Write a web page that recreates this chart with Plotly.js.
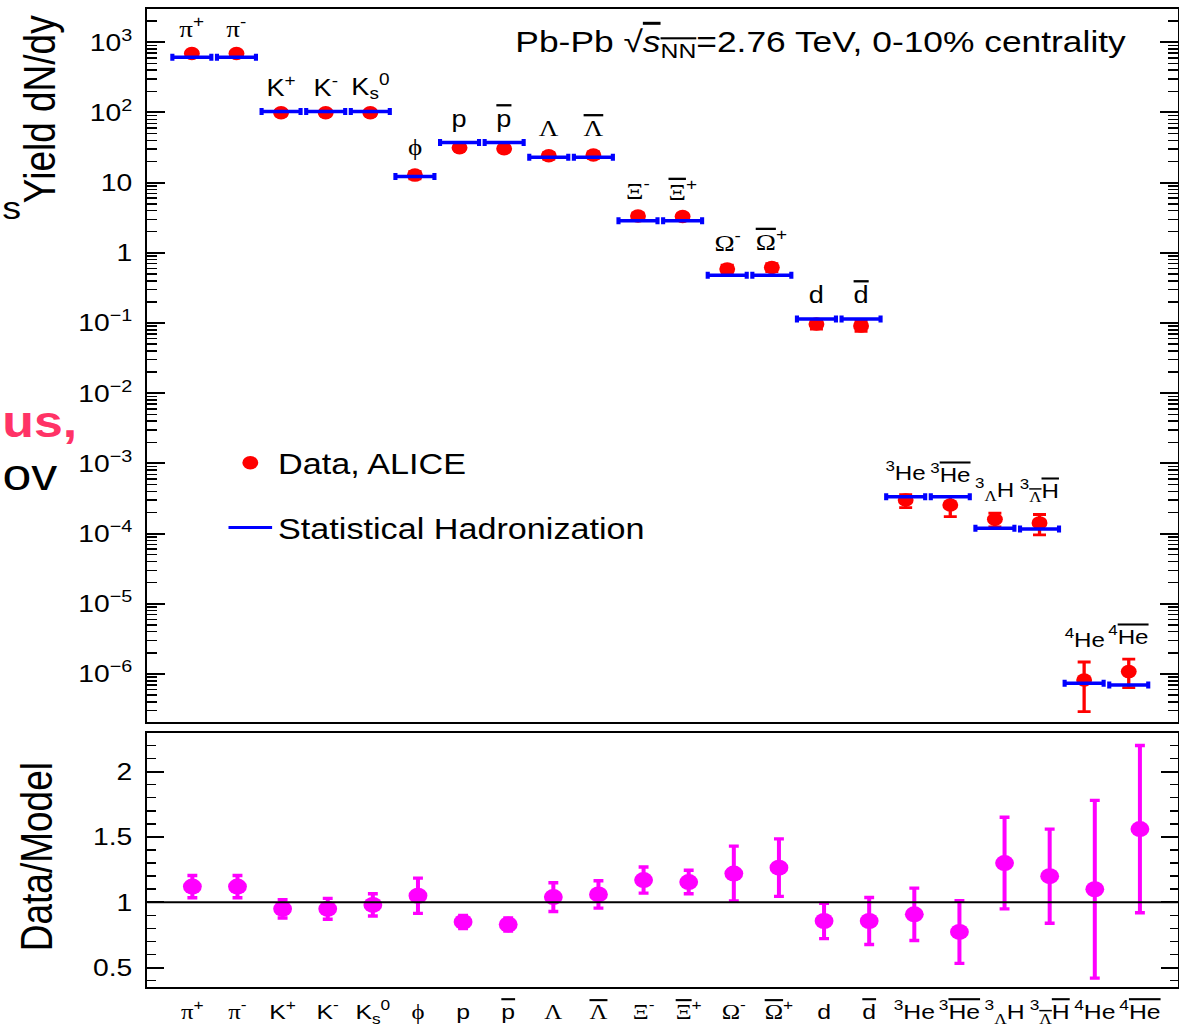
<!DOCTYPE html>
<html>
<head>
<meta charset="utf-8">
<script src="https://cdn.plot.ly/plotly-3.0.1.min.js"></script>
<style>
  html, body { margin: 0; padding: 0; background: #ffffff; overflow: hidden; }
  #plot { width: 1000px; height: 1029px; transform: scaleX(1.179); transform-origin: 0 0; }
</style>
</head>
<body>
<div id="plot"></div>
<script>
// helpers for particle notation
const G = s => '<span style="font-family:Liberation Serif, DejaVu Serif">' + s + '</span>';
const O = s => '<span style="text-decoration:overline">' + s + '</span>';

// particle species (tick labels, top-panel labels)
const categories = [
  G('π') + '<sup>+</sup>', G('π') + '<sup>-</sup>',
  'K<sup>+</sup>', 'K<sup>-</sup>', 'K<sub>s</sub><sup>0</sup>',
  G('ϕ'), 'p', O('p'), G('Λ'), O(G('Λ')),
  G('Ξ') + '<sup>-</sup>', O(G('Ξ')) + '<sup>+</sup>',
  G('Ω') + '<sup>-</sup>', O(G('Ω')) + '<sup>+</sup>',
  'd', O('d'),
  '<sup>3</sup>He', '<sup>3</sup>' + O('He'),
  '<sup>3</sup><sub>' + G('Λ') + '</sub>H', '<sup>3</sup><sub>' + O(G('Λ')) + '</sub>' + O('H'),
  '<sup>4</sup>He', '<sup>4</sup>' + O('He')
];

// Statistical hadronization model yields
const modelYield = [611, 611, 103, 103, 103, 12.2, 37.2, 37.2, 23.0, 23.0, 2.87, 2.87,
  0.478, 0.478, 0.114, 0.114, 3.36e-4, 3.36e-4, 1.19e-4, 1.16e-4, 7.4e-7, 6.98e-7];

// ALICE measured yields
const dataYield = [690, 690, 99, 99, 99, 12.8, 31.5, 30.5, 24.2, 24.7, 3.35, 3.3,
  0.59, 0.62, 0.097, 0.091, 3.0e-4, 2.56e-4, 1.6e-4, 1.42e-4, 8.2e-7, 1.08e-6];
const dataErrPlus = [50, 50, 8, 8, 8, 1.5, 2.5, 2.5, 2.5, 2.5, 0.3, 0.3,
  0.08, 0.08, 0.015, 0.015, 0.6e-4, 0.8e-4, 0.35e-4, 0.45e-4, 6.6e-7, 5.5e-7];
const dataErrMinus = [50, 50, 8, 8, 8, 1.5, 2.5, 2.5, 2.5, 2.5, 0.3, 0.3,
  0.08, 0.08, 0.015, 0.015, 0.65e-4, 0.82e-4, 0.35e-4, 0.46e-4, 5.3e-7, 4.4e-7];

// Data / Model ratio
const ratio = [1.12, 1.12, 0.95, 0.95, 0.98, 1.05, 0.85, 0.83, 1.04, 1.06, 1.17, 1.155,
  1.22, 1.265, 0.857, 0.857, 0.908, 0.773, 1.30, 1.20, 1.10, 1.56];
const ratioErr = [0.085, 0.085, 0.07, 0.08, 0.085, 0.135, 0.05, 0.05, 0.11, 0.105, 0.10, 0.09,
  0.21, 0.22, 0.135, 0.18, 0.20, 0.24, 0.35, 0.36, 0.68, 0.64];

// axis ticks
const yTickVals = [1e3, 1e2, 10, 1, 1e-1, 1e-2, 1e-3, 1e-4, 1e-5, 1e-6];
const yTickText = ['10<sup>3</sup>', '10<sup>2</sup>', '10', '1', '10<sup>−1</sup>', '10<sup>−2</sup>',
  '10<sup>−3</sup>', '10<sup>−4</sup>', '10<sup>−5</sup>', '10<sup>−6</sup>'];
const rTickVals = [0.5, 1, 1.5, 2];
const rTickText = ['0.5', '1', '1.5', '2'];

const xIdx = categories.map((_, i) => i);
const FONT = 'Liberation Sans, Arial, sans-serif';

const traces = [
  {
    x: xIdx, y: dataYield, xaxis: 'x', yaxis: 'y', type: 'scatter', mode: 'markers',
    name: 'Data, ALICE', legendgroup: 'a',
    marker: { color: '#ff0000', size: 13.5 },
    error_y: { type: 'data', symmetric: false, array: dataErrPlus, arrayminus: dataErrMinus,
      color: '#ff0000', thickness: 2.8, width: 5.5 }
  },
  {
    x: xIdx, y: modelYield, xaxis: 'x', yaxis: 'y', type: 'scatter', mode: 'markers',
    name: 'model', showlegend: false,
    marker: { color: '#0000ff', size: 1 },
    error_x: { type: 'constant', value: 0.437, color: '#0000ff', thickness: 3.5, width: 3.5 }
  },
  {
    x: [null], y: [null], xaxis: 'x', yaxis: 'y', type: 'scatter', mode: 'lines',
    name: 'Statistical Hadronization', legendgroup: 'b',
    line: { color: '#0000ff', width: 3 }
  },
  {
    x: xIdx, y: ratio, xaxis: 'x2', yaxis: 'y2', type: 'scatter', mode: 'markers',
    showlegend: false, name: 'ratio',
    marker: { color: '#ff00ff', size: 16 },
    error_y: { type: 'data', array: ratioErr, color: '#ff00ff', thickness: 3.4, width: 4.2 }
  }
];

const labelAnns = categories.map((c, i) => ({
  text: c, x: i, xref: 'x', yref: 'y',
  y: Math.log10(Math.max(modelYield[i], dataYield[i] + dataErrPlus[i])),
  yshift: 24, yanchor: 'middle', xanchor: 'center', showarrow: false,
  font: { family: FONT, size: i >= 16 ? 20.5 : 23, color: '#000000' }
}));

const otherAnns = [
  { text: 'Pb-Pb √' + O('<i>s</i><sub>NN</sub>') + '=2.76 TeV, 0-10% centrality',
    xref: 'paper', yref: 'paper', x: 0.3548, y: 0.9652, xanchor: 'left', yanchor: 'middle',
    showarrow: false, font: { family: FONT, size: 30, color: '#000000' } },
  { text: 'Yield dN/dy', xref: 'paper', yref: 'paper', x: -0.104, y: 0.8977,
    xanchor: 'center', yanchor: 'middle', textangle: -90, showarrow: false,
    font: { family: FONT, size: 37, color: '#000000' } },
  { text: 'Data/Model', xref: 'paper', yref: 'paper', x: -0.107, y: 0.1332,
    xanchor: 'center', yanchor: 'middle', textangle: -90, showarrow: false,
    font: { family: FONT, size: 37, color: '#000000' } },
  { text: 's', xref: 'paper', yref: 'paper', x: -0.1430, y: (987 - 208) / 978,
    xanchor: 'left', yanchor: 'middle', showarrow: false,
    font: { family: FONT, size: 32, color: '#000000' } },
  { text: '<b>us,</b>', xref: 'paper', yref: 'paper', x: -0.1425, y: (987 - 422) / 978,
    xanchor: 'left', yanchor: 'middle', showarrow: false,
    font: { family: FONT, size: 44, color: '#ff3366' } },
  { text: 'ov', xref: 'paper', yref: 'paper', x: -0.1425, y: (987 - 474) / 978,
    xanchor: 'left', yanchor: 'middle', showarrow: false,
    font: { family: FONT, size: 44, color: '#000000' } }
];

const axisCommon = {
  showline: true, linecolor: '#000000', linewidth: 2, mirror: 'allticks',
  showgrid: false, zeroline: false
};

const layout = {
  width: 1000, height: 1029,
  margin: { l: 125, r: 1, t: 9, b: 42 },
  paper_bgcolor: '#ffffff', plot_bgcolor: '#ffffff',
  font: { family: FONT, color: '#000000' },
  showlegend: true,
  legend: {
    x: 0.073, y: 0.562, xanchor: 'left', yanchor: 'top',
    font: { family: FONT, size: 29, color: '#000000' },
    itemwidth: 37, traceorder: 'grouped', tracegroupgap: 24,
    bgcolor: 'rgba(0,0,0,0)', borderwidth: 0
  },
  xaxis: Object.assign({}, axisCommon, {
    domain: [0, 1], anchor: 'y', range: [-0.997, 22.10],
    showticklabels: false, ticks: ''
  }),
  yaxis: Object.assign({}, axisCommon, {
    domain: [0.271, 1], anchor: 'x', type: 'log', range: [-6.684, 3.474],
    tickmode: 'array', tickvals: yTickVals, ticktext: yTickText,
    ticks: 'inside', ticklen: 15, tickwidth: 2, tickcolor: '#000000',
    ticklabelstandoff: 6,
    tickfont: { family: FONT, size: 24, color: '#000000' },
    minor: { ticks: 'inside', ticklen: 8, tickwidth: 1.5, tickcolor: '#000000', dtick: 'D1', showgrid: false }
  }),
  xaxis2: Object.assign({}, axisCommon, {
    domain: [0, 1], anchor: 'y2', range: [-0.997, 21.84],
    tickmode: 'array', tickvals: xIdx, ticktext: categories, ticks: '',
    tickangle: 0, ticklabelstandoff: 5,
    tickfont: { family: FONT, size: 21, color: '#000000' }
  }),
  yaxis2: Object.assign({}, axisCommon, {
    domain: [0, 0.2597], anchor: 'x2', range: [0.352, 2.295],
    tickmode: 'array', tickvals: rTickVals, ticktext: rTickText,
    ticks: 'inside', ticklen: 14, tickwidth: 2, tickcolor: '#000000',
    ticklabelstandoff: 6,
    tickfont: { family: FONT, size: 24, color: '#000000' },
    minor: { ticks: 'inside', ticklen: 7, tickwidth: 1.5, tickcolor: '#000000', dtick: 0.1, showgrid: false }
  }),
  shapes: [
    { type: 'line', xref: 'x2 domain', yref: 'y2', x0: 0, x1: 1, y0: 1, y1: 1,
      line: { color: '#000000', width: 2 } }
  ],
  annotations: labelAnns.concat(otherAnns)
};

Plotly.newPlot('plot', traces, layout, { staticPlot: true, displayModeBar: false });
</script>
</body>
</html>
